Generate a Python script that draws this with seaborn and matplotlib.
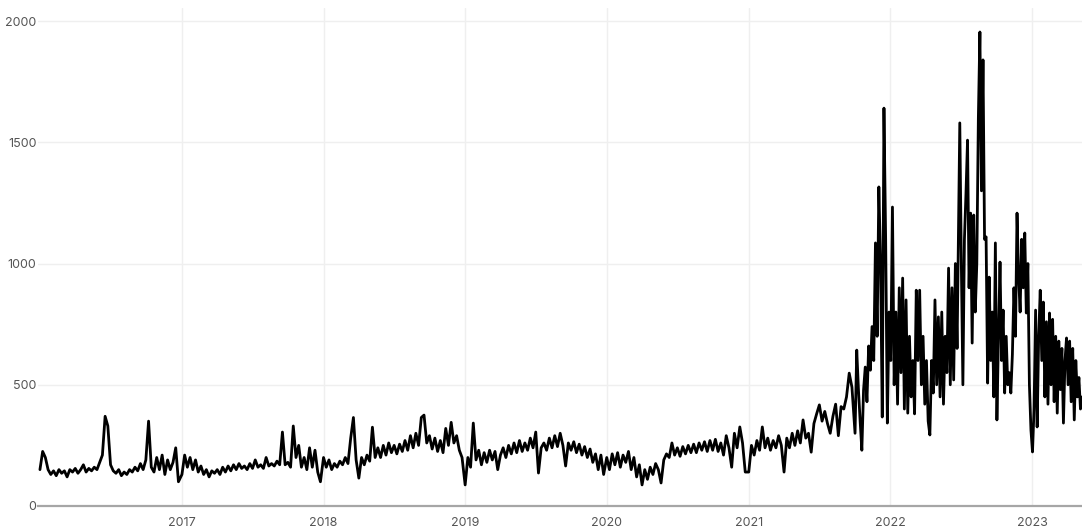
import pandas as pd
import matplotlib
matplotlib.use("Agg")
import matplotlib.pyplot as plt
import matplotlib.dates as mdates
import seaborn as sns

sns.set_theme(style="white")
plt.rcParams["font.family"] = ["Inter", "DejaVu Sans"]

# weekly readings for the calm years (one value per week from 1 Jan)
values_2016 = [150, 225, 200, 150, 130, 145, 125, 150, 135, 145,
               120, 150, 140, 155, 135, 150, 170, 140, 155, 145,
               160, 150, 180, 210, 370, 330, 170, 145, 135, 150,
               125, 140, 130, 150, 140, 160, 145, 175, 150, 190,
               350, 160, 140, 200, 150, 210, 130, 190, 150, 180,
               240, 100]
values_2017 = [130, 210, 160, 200, 150, 190, 140, 165, 130, 150,
               120, 145, 135, 150, 130, 160, 140, 165, 145, 170,
               150, 175, 155, 165, 150, 175, 155, 190, 160, 170,
               155, 200, 165, 175, 165, 185, 170, 305, 170, 180,
               160, 330, 200, 250, 160, 200, 150, 240, 160, 230,
               140, 100]
values_2018 = [200, 160, 190, 150, 175, 160, 185, 170, 200, 175,
               280, 365, 190, 115, 200, 170, 210, 185, 325, 200,
               240, 200, 250, 210, 260, 220, 250, 215, 255, 225,
               270, 230, 290, 240, 300, 250, 365, 375, 260, 290,
               235, 280, 225, 270, 220, 320, 250, 345, 260, 290,
               230, 200]
values_2019 = [87, 200, 160, 342, 190, 230, 170, 220, 180, 230,
               190, 225, 150, 210, 240, 200, 250, 215, 260, 220,
               270, 225, 260, 230, 280, 240, 305, 136, 240, 260,
               230, 280, 240, 290, 245, 300, 250, 165, 260, 230,
               265, 220, 255, 210, 245, 200, 235, 180, 215, 150,
               210, 130]
values_2020 = [200, 150, 215, 170, 220, 160, 210, 180, 225, 150,
               200, 120, 170, 87, 150, 110, 160, 130, 175, 150,
               95, 190, 215, 200, 260, 210, 240, 205, 245, 215,
               250, 220, 255, 220, 260, 230, 265, 225, 270, 230,
               275, 225, 260, 210, 290, 240, 160, 300, 240, 326,
               260, 140]
values_2021 = [140, 250, 210, 270, 230, 326, 240, 280, 230, 270,
               240, 290, 250, 140, 280, 240, 300, 250, 310, 260,
               355, 280, 300, 222, 340, 380, 417, 350, 390, 340,
               300, 370, 420, 290, 410, 400, 450, 548, 490]

# denser readings for the volatile period
values_late21 = [300, 643, 480, 350, 230, 478, 573, 430, 660, 560,
                 740, 600, 1085, 700, 1316, 1000, 367, 1641, 1100, 342,
                 800, 600, 1233, 500, 800, 420, 900, 550, 940, 400,
                 850, 383, 700, 450, 600, 380, 890, 600, 890, 500,
                 700, 420, 600, 350, 293, 600, 466, 850, 500, 780,
                 450, 800, 420, 700, 550, 981, 500, 900, 520, 1000,
                 650]
values_late22 = [1580, 1000, 500, 1100, 1290, 1509, 900, 1208, 672, 1200,
                 800, 1000, 1600, 1955, 1300, 1840, 1100, 1110, 507, 944,
                 600, 800, 450, 1085, 355, 700, 1006, 600, 808, 466,
                 700, 500, 550, 466, 625, 900, 700, 1208, 950, 800,
                 1100, 900, 1126, 796, 1000, 500, 313, 223, 400, 808,
                 326, 700, 890, 600, 841, 450, 760, 420, 796, 500,
                 770, 430, 700, 383, 680, 480, 650, 342, 600, 693,
                 500, 680, 430, 650, 355, 600, 450, 530, 400, 450]

frames = []
for year, vals in [(2016, values_2016), (2017, values_2017), (2018, values_2018),
                   (2019, values_2019), (2020, values_2020), (2021, values_2021)]:
    dates = pd.date_range(f"{year}-01-01", periods=len(vals), freq="7D")
    frames.append(pd.DataFrame({"date": dates, "value": vals}))
frames.append(pd.DataFrame({
    "date": pd.date_range("2021-10-02", "2022-06-22", periods=len(values_late21)),
    "value": values_late21}))
frames.append(pd.DataFrame({
    "date": pd.date_range("2022-06-29", "2023-05-10", periods=len(values_late22)),
    "value": values_late22}))
df = pd.concat(frames, ignore_index=True)

fig = plt.figure(figsize=(10.82, 5.31), dpi=100)
ax = fig.add_axes([38 / 1082, 25 / 531, 1 - 38 / 1082, 498 / 531])

sns.lineplot(data=df, x="date", y="value", color="black", linewidth=2.0,
             estimator=None, ax=ax)

ax.set_xlim(pd.Timestamp("2015-12-27"), pd.Timestamp("2023-05-10"))
ax.set_ylim(0, 2054)
ax.set_yticks([0, 500, 1000, 1500, 2000])
ax.set_xticks([pd.Timestamp(f"{y}-01-01") for y in range(2017, 2024)])
ax.xaxis.set_major_formatter(mdates.DateFormatter("%Y"))

ax.grid(True, color="#efefef", linewidth=1)
ax.set_axisbelow(True)
for s in ["left", "top", "right"]:
    ax.spines[s].set_visible(False)
ax.spines["bottom"].set_color("#a6a6a6")
ax.spines["bottom"].set_linewidth(1.6)
ax.tick_params(axis="both", length=0, labelsize=9, colors="#555555")
ax.tick_params(axis="y", pad=1)
ax.tick_params(axis="x", pad=8)
ax.set_xlabel("")
ax.set_ylabel("")

fig.savefig("out.png", dpi=100)
